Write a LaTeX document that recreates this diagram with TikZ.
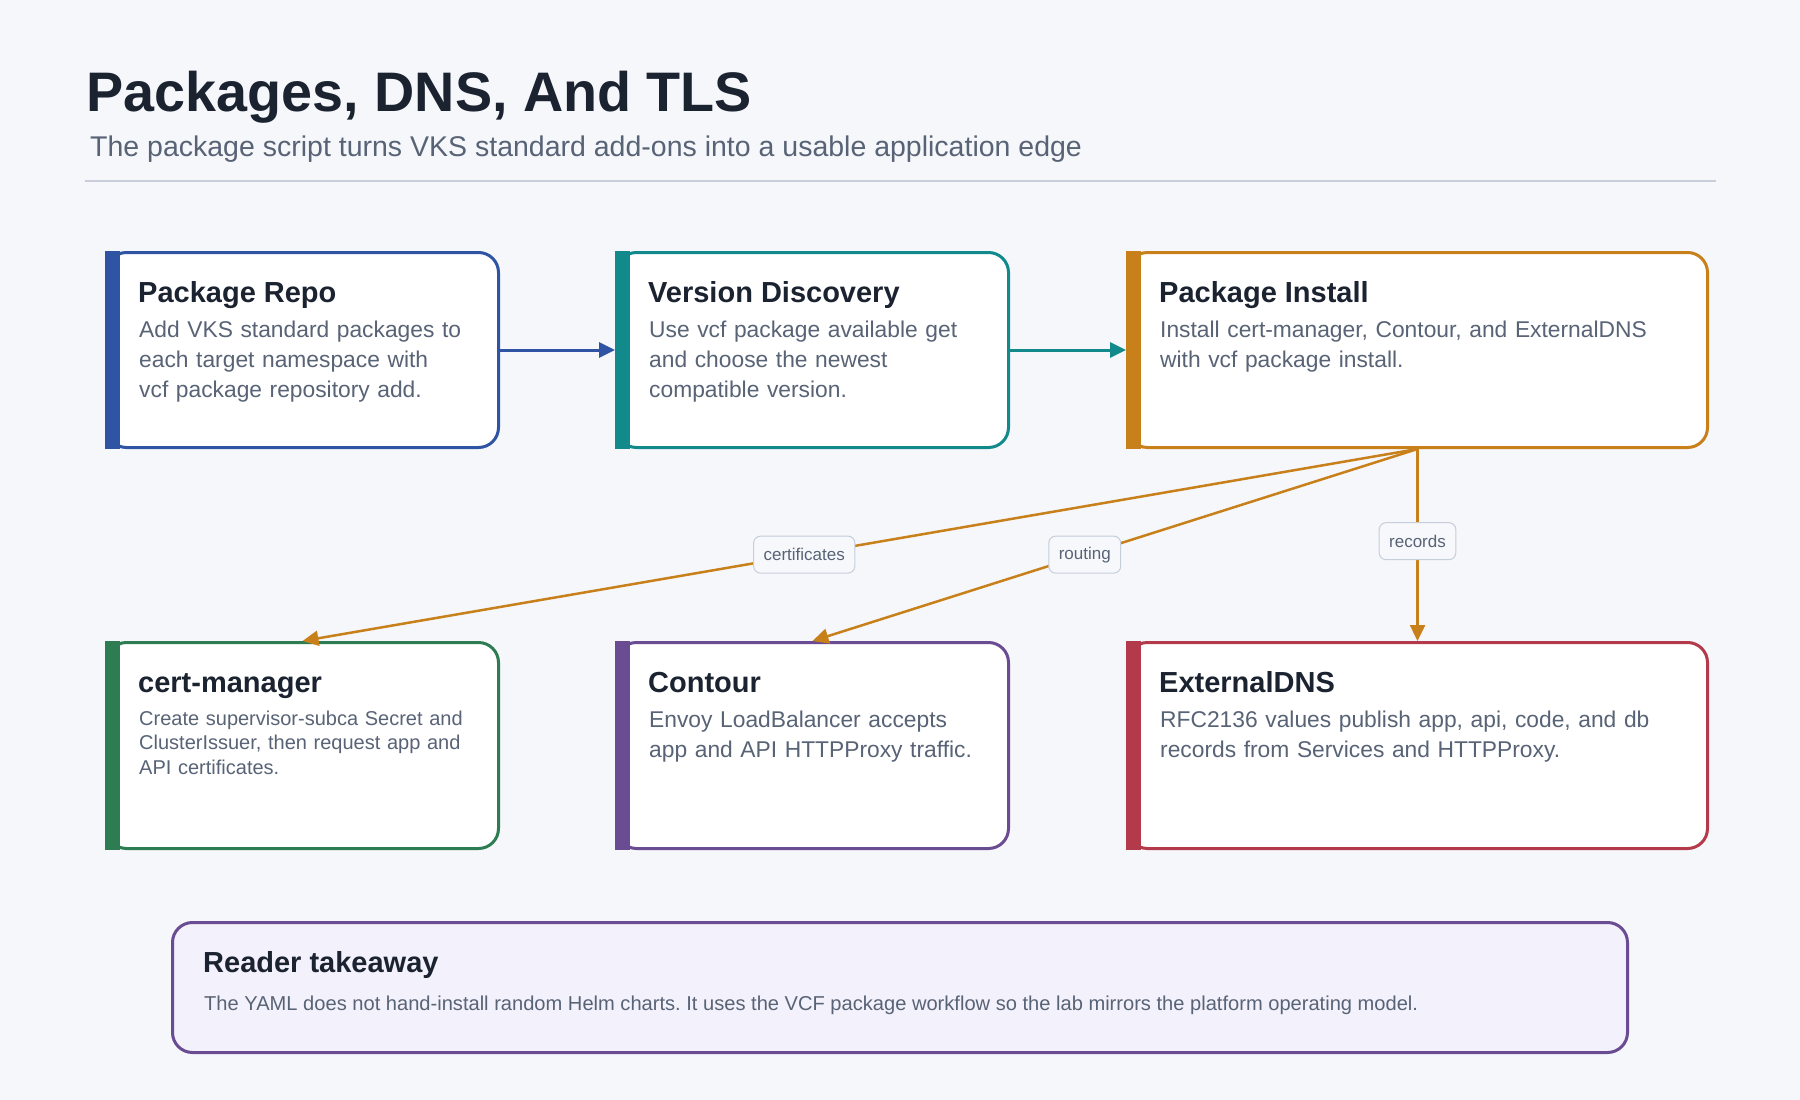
\documentclass[tikz,border=0pt]{standalone}
\usepackage{fontspec}
\setmainfont{Liberation Sans}
\usetikzlibrary{arrows.meta}
\frenchspacing

\definecolor{bgcol}{HTML}{F6F7FB}
\definecolor{ink}{HTML}{1B2230}
\definecolor{muted}{HTML}{586376}
\definecolor{rulecol}{HTML}{C9CFDA}
\definecolor{repoblue}{HTML}{2F54A3}
\definecolor{discteal}{HTML}{12898A}
\definecolor{instorange}{HTML}{C8801A}
\definecolor{certgreen}{HTML}{2E7C52}
\definecolor{contpurple}{HTML}{6A4C92}
\definecolor{dnsred}{HTML}{B23A4A}
\definecolor{takefill}{HTML}{F3F1FB}
\definecolor{labline}{HTML}{C5CEDB}
\definecolor{labfill}{HTML}{F7F8FB}

\tikzset{
    card/.style={draw=#1, line width=3pt, fill=white, rounded corners=20pt,
        inner sep=0pt, minimum width=392pt, minimum height=195pt},
    cardtitle/.style={anchor=base west, inner sep=0pt, text=ink,
        font=\fontsize{29}{34}\selectfont\bfseries},
    cardtext/.style={anchor=base west, inner sep=0pt, text=muted, align=left,
        text width=500pt, font=\fontsize{22.8}{30}\selectfont},
    flow/.style={draw=#1, line width=3pt, -{Triangle[length=16pt,width=15pt]}},
    edgelab/.style={draw=labline, fill=labfill, line width=1pt, rounded corners=7pt,
        text=muted, inner xsep=10pt, inner ysep=0pt, minimum height=37pt,
        font=\fontsize{17}{17}\selectfont}
}

\begin{document}
\begin{tikzpicture}[x=1pt, y=-1pt]

        % Page background
        \fill[bgcol] (0,0) rectangle (1800,1100);
        \useasboundingbox (0,0) rectangle (1800,1100);

        % Heading
        \node[anchor=base west, inner sep=0pt, text=ink, font=\fontsize{55.7}{60}\selectfont\bfseries]
            (title) at (86.5,111) {Packages, DNS, And TLS};
        \node[anchor=base west, inner sep=0pt, text=muted, font=\fontsize{28.5}{32}\selectfont]
            (subtitle) at (90,156.5) {The package script turns VKS standard add-ons into a usable application edge};
        \draw[rulecol, line width=2pt] (85,181) -- (1716,181);

        % First row
        \node[card=repoblue] (repo) at (302.5,350) {};
        \node[card=discteal] (disc) at (812.5,350) {};
        \node[card=instorange, minimum width=580pt] (inst) at (1417.5,350) {};

        % Second row
        \node[card=certgreen, minimum height=206pt] (cert) at (302.5,745.5) {};
        \node[card=contpurple, minimum height=206pt] (cont) at (812.5,745.5) {};
        \node[card=dnsred, minimum width=580pt, minimum height=206pt] (dns) at (1417.5,745.5) {};

        % Colour bars on the left of every card
        \foreach \n/\c in {repo/repoblue, disc/discteal, inst/instorange,
                           cert/certgreen, cont/contpurple, dns/dnsred} {
            \fill[\c] (\n.north west) rectangle ([xshift=15pt]\n.south west);
        }

        % Package Repo
        \node[cardtitle] (repot) at ([xshift=33pt,yshift=-51pt]repo.north west) {Package Repo};
        \node[cardtext] (repob) at ([xshift=34pt,yshift=-86pt]repo.north west) {
            Add VKS standard packages to\\
            each target namespace with\\
            vcf package repository add.
        };

        % Version Discovery
        \node[cardtitle] (disct) at ([xshift=33pt,yshift=-51pt]disc.north west) {Version Discovery};
        \node[cardtext] (discb) at ([xshift=34pt,yshift=-86pt]disc.north west) {
            Use vcf package available get\\
            and choose the newest\\
            compatible version.
        };

        % Package Install
        \node[cardtitle] (instt) at ([xshift=33pt,yshift=-51pt]inst.north west) {Package Install};
        \node[cardtext] (instb) at ([xshift=34pt,yshift=-86pt]inst.north west) {
            Install cert-manager, Contour, and ExternalDNS\\
            with vcf package install.
        };

        % cert-manager
        \node[cardtitle] (certt) at ([xshift=33pt,yshift=-51pt]cert.north west) {cert-manager};
        \node[cardtext, font=\fontsize{20}{24.5}\selectfont] (certb) at ([xshift=34pt,yshift=-84pt]cert.north west) {
            Create supervisor-subca Secret and\\
            ClusterIssuer, then request app and\\
            API certificates.
        };

        % Contour
        \node[cardtitle] (contt) at ([xshift=33pt,yshift=-51pt]cont.north west) {Contour};
        \node[cardtext] (contb) at ([xshift=34pt,yshift=-86pt]cont.north west) {
            Envoy LoadBalancer accepts\\
            app and API HTTPProxy traffic.
        };

        % ExternalDNS
        \node[cardtitle] (dnst) at ([xshift=33pt,yshift=-51pt]dns.north west) {ExternalDNS};
        \node[cardtext] (dnsb) at ([xshift=34pt,yshift=-86pt]dns.north west) {
            RFC2136 values publish app, api, code, and db\\
            records from Services and HTTPProxy.
        };

        % Flow along the first row
        \draw[flow=repoblue] (repo.east) -- (disc.west);
        \draw[flow=discteal] (disc.east) -- (inst.west);

        % Install fans out to the add-ons
        \draw[flow=instorange, line width=2.5pt] (inst.south) -- node[edgelab, pos=0.55] (l1) {certificates} (cert.north);
        \draw[flow=instorange, line width=2.5pt] (inst.south) -- node[edgelab, pos=0.55] (l2) {routing} (cont.north);
        \draw[flow=instorange, line width=2.5pt] (inst.south) -- node[edgelab, pos=0.48] (l3) {records} (dns.north);

        % Reader takeaway
        \node[draw=contpurple, fill=takefill, line width=3pt, rounded corners=20pt,
            minimum width=1455pt, minimum height=130pt] (take) at (900,987.5) {};
        \node[cardtitle] (taket) at ([xshift=32pt,yshift=-51pt]take.north west) {Reader takeaway};
        \node[anchor=base west, inner sep=0pt, text=muted, font=\fontsize{20.1}{24}\selectfont] (takeb)
            at ([xshift=33pt,yshift=-89pt]take.north west)
            {The YAML does not hand-install random Helm charts. It uses the VCF package workflow so the lab mirrors the platform operating model.};

\end{tikzpicture}
\end{document}
